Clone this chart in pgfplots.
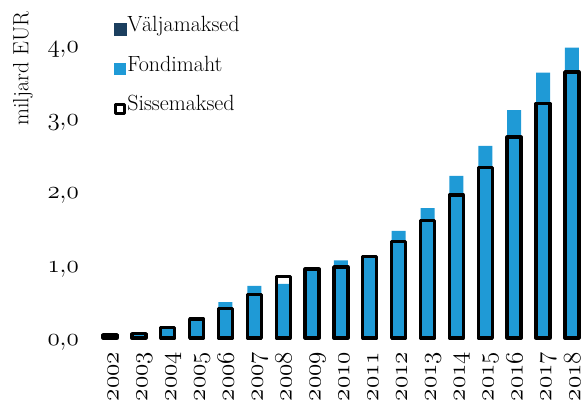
\RequirePackage{fix-cm}
\documentclass[border=0pt]{standalone}
\usepackage{pgfplots}
\usepackage{pgfplotstable}
\pgfplotsset{compat=1.18}

\definecolor{fondblue}{HTML}{1F9AD6}
\definecolor{navy}{HTML}{1B3F5F}

% miljard EUR
\pgfplotstableread{
year fond sisse
2002 0.03 0.045
2003 0.05 0.06
2004 0.13 0.14
2005 0.26 0.26
2006 0.49 0.40
2007 0.71 0.59
2008 0.74 0.84
2009 0.94 0.94
2010 1.06 0.97
2011 1.11 1.11
2012 1.46 1.32
2013 1.77 1.60
2014 2.21 1.95
2015 2.62 2.33
2016 3.11 2.74
2017 3.62 3.20
2018 3.96 3.63
}\datatable

\newcommand{\osn}[1]{$\mathnormal{#1}$}

\begin{document}
\begin{tikzpicture}
\useasboundingbox (-95.6pt,-65pt) rectangle (488.4pt,338pt);
\begin{axis}[
  scale only axis,
  width=488.4pt, height=337.2pt,
  xmin=2001.5, xmax=2018.42,
  ymin=0, ymax=4.6,
  clip=false,
  axis line style={draw=none},
  major tick length=0pt,
  ytick={0,1,2,3,4},
  yticklabels={\osn{0{,}0},\osn{1{,}0},\osn{2{,}0},\osn{3{,}0},\osn{4{,}0}},
  xtick={2002,...,2018},
  xticklabels={\osn{2002},\osn{2003},\osn{2004},\osn{2005},\osn{2006},\osn{2007},
    \osn{2008},\osn{2009},\osn{2010},\osn{2011},\osn{2012},\osn{2013},\osn{2014},
    \osn{2015},\osn{2016},\osn{2017},\osn{2018}},
  ticklabel style={font=\fontsize{25}{28}\selectfont},
  yticklabel style={anchor=base east, inner sep=0pt, xshift=-16.6pt, yshift=-7.5pt},
  xticklabel style={xshift=8.5pt, yshift=-14pt, rotate=90, anchor=base east, inner sep=0pt},
  ylabel={miljard EUR},
  ylabel style={at={(axis description cs:-0.1487,0.799)}, anchor=center,
    font=\fontsize{22}{26}\selectfont},
  legend style={at={(axis description cs:0.0377,0.936)}, anchor=north west,
    draw=none, fill=none, inner sep=0pt,
    font=\fontsize{22}{26}\selectfont, row sep=27.5pt,
    nodes={inner sep=1pt, text height=0.75em, text depth=0.25em}},
  legend cell align=left,
]
\addlegendimage{legend image code/.code={\fill[navy] (0pt,-6.3pt) rectangle (11.7pt,5.4pt);}}
\addlegendentry{Väljamaksed}

\addplot[ybar, bar width=14pt, bar shift=0pt, fill=fondblue, draw=none,
  legend image code/.code={\fill[fondblue] (0pt,-6.3pt) rectangle (11.7pt,5.4pt);}]
  table[x=year, y=fond] {\datatable};
\addlegendentry{Fondimaht}

\addplot[ybar, bar width=14pt, bar shift=0pt, fill=none, draw=black,
  line width=3.3pt, line join=round,
  legend image code/.code={\draw[black, fill=white, line width=3pt, line join=round] (1.5pt,-4.8pt) rectangle (10.2pt,3.9pt);}]
  table[x=year, y=sisse] {\datatable};
\addlegendentry{Sissemaksed}
\end{axis}
\end{tikzpicture}
\end{document}
